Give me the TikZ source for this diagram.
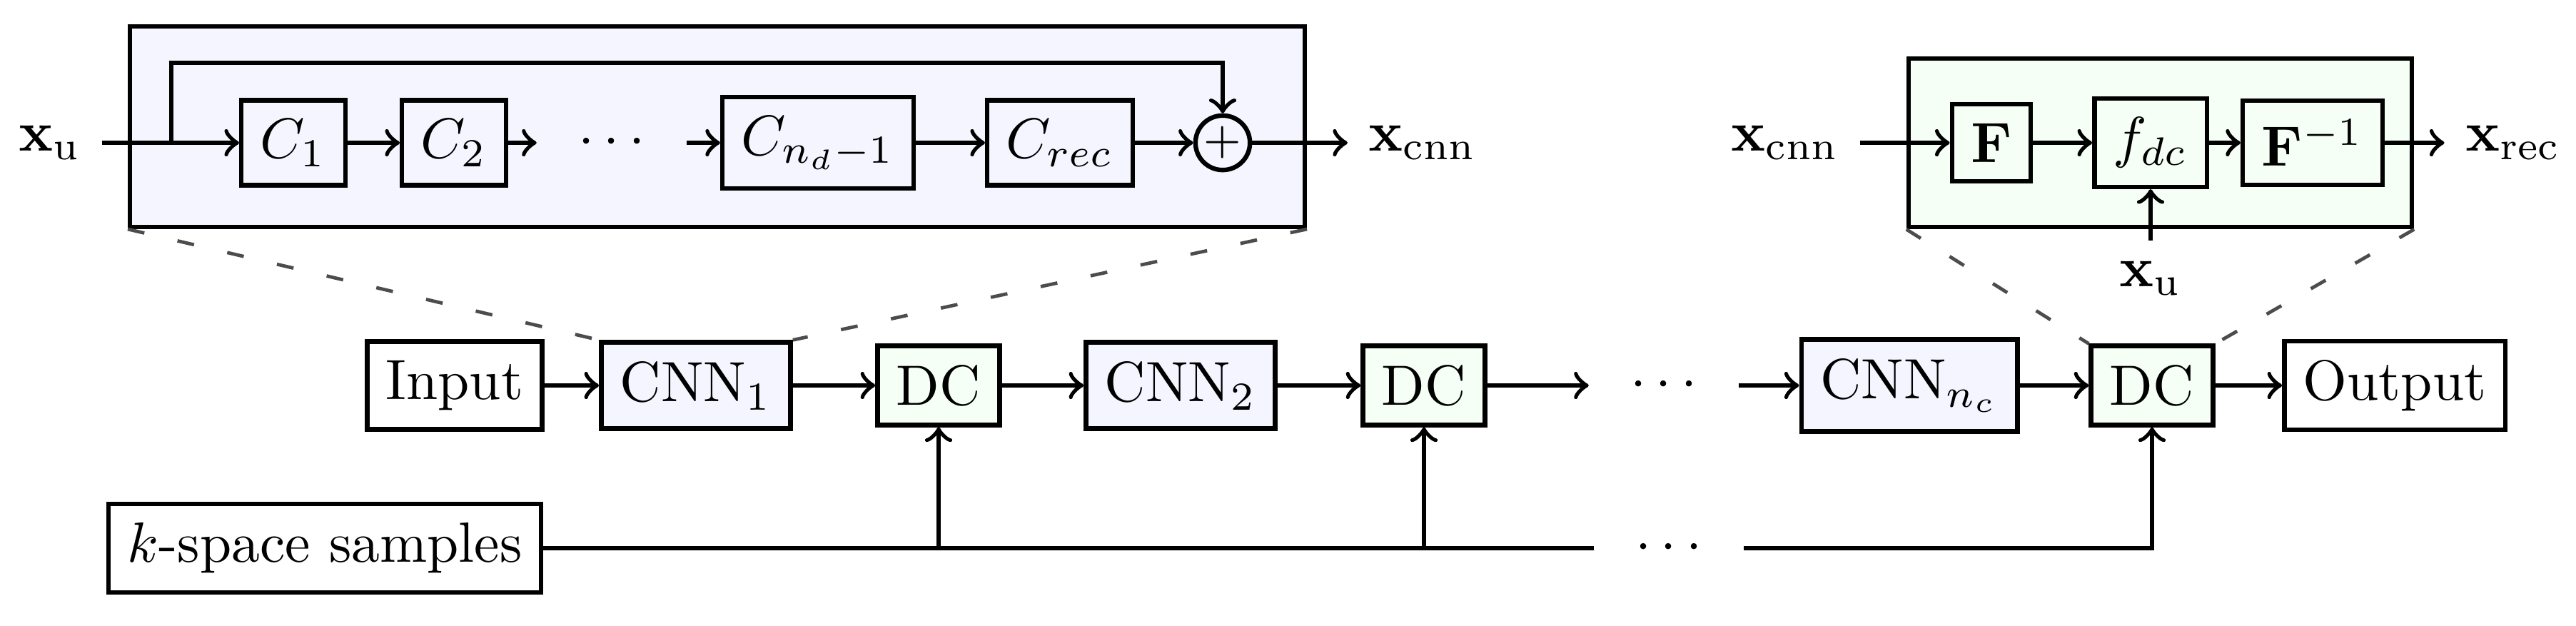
\documentclass[tikz,border=0pt]{standalone}
\tikzset{
  block/.style={draw, thick},
  cnnbg/.style={block, fill=blue!4},
  dcbg/.style={block, fill=green!4},
  dotsnode/.style={inner sep=7pt},
  zoomline/.style={loosely dashed, black!70, semithick},
}
\begin{document}
\begin{tikzpicture}[x=0.4421cm, y=0.4421cm, thick]
        \useasboundingbox (0,0) rectangle (36.09,-8.76);
        % zoomed views
        \node [cnnbg, minimum width=207pt, minimum height=35.3pt] (cnnbox) at (10.05,-1.775) {};
        \node [dcbg, minimum width=88.7pt, minimum height=29.7pt] (dcbox) at (30.265,-2.00) {};
        % CNN block
        \node (xuA) at (0.70,-2.00) {$\mathbf{x}_\mathrm{u}$};
        \node [block] (c1) at (4.11,-2.00) {$C_1$};
        \node [block] (c2) at (6.36,-2.00) {$C_2$};
        \node [dotsnode] (dotsA) at (8.57,-2.00) {$\cdots$};
        \node [block] (cnd) at (11.46,-2.00) {$C_{n_d-1}$};
        \node [block] (crec) at (14.85,-2.00) {$C_{rec}$};
        \node [block, circle, inner sep=0pt, minimum size=9.6pt] (plus) at (17.13,-2.00) {\footnotesize$+$};
        \node (xcnnA) at (19.93,-2.00) {$\mathbf{x}_\mathrm{cnn}$};
        \coordinate (split) at (2.40,-2.00);
        \draw [->] (xuA) -- (c1);
        \draw [->] (c1) -- (c2);
        \draw [->] (c2) -- (dotsA);
        \draw [->] (dotsA) -- (cnd);
        \draw [->] (cnd) -- (crec);
        \draw [->] (crec) -- (plus);
        \draw [->] (plus) -- (xcnnA);
        \draw [->] (split) -- ++(0,1.12) -| (plus.north);
        % DC block
        \node (xcnnB) at (25.01,-2.00) {$\mathbf{x}_\mathrm{cnn}$};
        \node [block] (fA) at (27.90,-2.00) {$\mathbf{F}$};
        \node [block] (fdc) at (30.13,-2.00) {$f_{dc}$};
        \node [block] (fB) at (32.40,-2.00) {$\mathbf{F}^{-1}$};
        \node (xrec) at (35.21,-2.00) {$\mathbf{x}_\mathrm{rec}$};
        \node (xuB) at (30.13,-3.90) {$\mathbf{x}_\mathrm{u}$};
        \draw [->] (xcnnB) -- (fA);
        \draw [->] (fA) -- (fdc);
        \draw [->] (fdc) -- (fB);
        \draw [->] (fB) -- (xrec);
        \draw [->] (xuB) -- (fdc);
        % unrolled network
        \node [block] (input) at (6.37,-5.40) {Input};
        \node [cnnbg] (cnn1) at (9.75,-5.40) {CNN$_1$};
        \node [dcbg] (dc1) at (13.15,-5.40) {DC};
        \node [cnnbg] (cnn2) at (16.54,-5.40) {CNN$_2$};
        \node [dcbg] (dc2) at (19.95,-5.40) {DC};
        \node [dotsnode] (dotsB) at (23.31,-5.40) {$\cdots$};
        \node [cnnbg] (cnnn) at (26.75,-5.40) {CNN$_{n_c}$};
        \node [dcbg] (dc3) at (30.15,-5.40) {DC};
        \node [block] (output) at (33.55,-5.40) {Output};
        \node [block] (ksp) at (4.55,-7.68) {$k$-space samples};
        \node [dotsnode] (dotsC) at (23.38,-7.68) {$\cdots$};
        \draw [->] (input) -- (cnn1);
        \draw [->] (cnn1) -- (dc1);
        \draw [->] (dc1) -- (cnn2);
        \draw [->] (cnn2) -- (dc2);
        \draw [->] (dc2) -- (dotsB);
        \draw [->] (dotsB) -- (cnnn);
        \draw [->] (cnnn) -- (dc3);
        \draw [->] (dc3) -- (output);
        \draw (ksp) -- (dotsC);
        \draw [->] (dc1 |- ksp) -- (dc1);
        \draw [->] (dc2 |- ksp) -- (dc2);
        \draw [->] (dotsC) -- (dc3 |- ksp) -- (dc3);
        % zoom lines
        \draw [zoomline] (cnnbox.south west) -- (cnn1.north west);
        \draw [zoomline] (cnnbox.south east) -- (cnn1.north east);
        \draw [zoomline] (dcbox.south west) -- (dc3.north west);
        \draw [zoomline] (dcbox.south east) -- (dc3.north east);
\end{tikzpicture}
\end{document}
